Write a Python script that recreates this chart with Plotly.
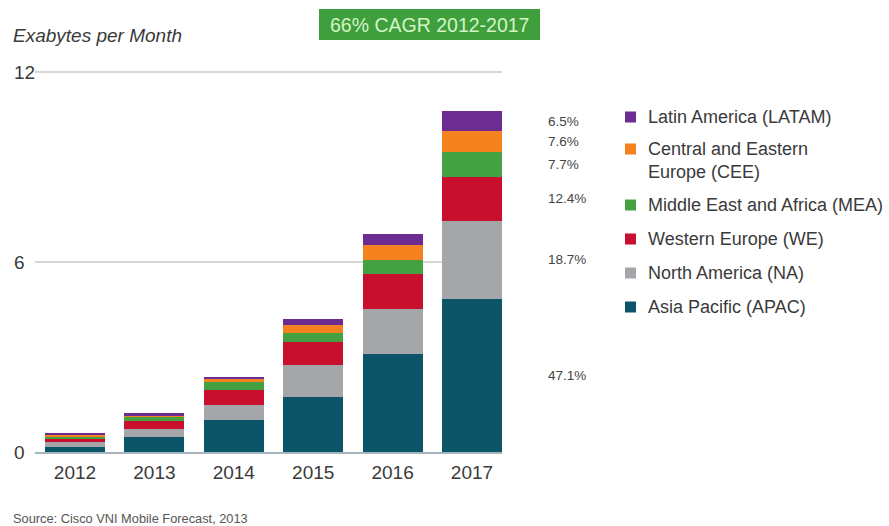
import plotly.graph_objects as go

# Mobile data traffic by region, exabytes per month
years = ["2012", "2013", "2014", "2015", "2016", "2017"]
apac = [0.17, 0.47, 1.02, 1.75, 3.09, 4.83]
north_america = [0.14, 0.26, 0.47, 1.00, 1.42, 2.47]
western_europe = [0.13, 0.25, 0.47, 0.72, 1.10, 1.39]
mea = [0.06, 0.11, 0.24, 0.30, 0.44, 0.79]
cee = [0.05, 0.07, 0.10, 0.25, 0.48, 0.65]
latam = [0.04, 0.06, 0.07, 0.19, 0.34, 0.64]

# 2017 regional shares, bottom to top
share_2017 = ["47.1%", "18.7%", "12.4%", "7.7%", "7.6%", "6.5%"]

region_names = [
    "Asia Pacific (APAC)",
    "North America (NA)",
    "Western Europe (WE)",
    "Middle East and Africa (MEA)",
    "Central and Eastern<br>Europe (CEE)",
    "Latin America (LATAM)",
]
region_values = [apac, north_america, western_europe, mea, cee, latam]
region_colors = ["#0c5467", "#a4a6a9", "#c8102e", "#43a142", "#f5821f", "#6b2d91"]

y_ticks = [0, 6, 12]
cagr_text = "66% CAGR 2012-2017"
source_text = "Source: Cisco VNI Mobile Forecast, 2013"

FONT = "Liberation Sans, Arial, sans-serif"
TXT = "#3a3a3a"

# plot-area geometry (pixels) used to place paper-referenced items
W, H = 889, 526
L, R, T, B = 35, 387, 69, 74
PW, PH = W - L - R, H - T - B
PX_PER_UNIT = 380 / 12.0
Y_MAX = PH / PX_PER_UNIT


def px_x(px):
    return (px - L) / PW


def px_y(py):
    return (H - B - py) / PH


fig = go.Figure()
x_pos = list(range(len(years)))
for name, vals, color in zip(region_names, region_values, region_colors):
    fig.add_trace(go.Bar(
        x=x_pos, y=vals, name=name, width=0.756,
        marker=dict(color=color, line=dict(width=0)),
        showlegend=False, hoverinfo="y+name",
    ))

annotations = []
shapes = []

# y tick labels, left aligned
for t in y_ticks:
    annotations.append(dict(
        xref="paper", yref="y", x=px_x(12), y=t, xanchor="left", yanchor="middle",
        text=str(t), showarrow=False, font=dict(family=FONT, size=19, color=TXT),
    ))

# share labels beside the 2017 bar, at each segment's midpoint
base = 0.0
for vals, lab in zip(region_values, share_2017):
    v = vals[-1]
    annotations.append(dict(
        xref="paper", yref="y", x=px_x(546), y=base + v / 2, xanchor="left",
        yanchor="middle", text=lab, showarrow=False,
        font=dict(family=FONT, size=13.5, color="#444444"),
    ))
    base += v

# legend, top entry first
legend_rows = [117, 149, 205, 239, 273, 307]
for name, color, row_y in zip(region_names[::-1], region_colors[::-1], legend_rows):
    shapes.append(dict(
        type="rect", xref="paper", yref="paper",
        x0=px_x(625), x1=px_x(636), y0=px_y(row_y + 5.5), y1=px_y(row_y - 5.5),
        fillcolor=color, line=dict(width=0),
    ))
    annotations.append(dict(
        xref="paper", yref="paper", x=px_x(646), y=px_y(row_y - 12),
        xanchor="left", yanchor="top", align="left", text=name, showarrow=False,
        font=dict(family=FONT, size=18, color=TXT),
    ))

# CAGR banner
shapes.append(dict(
    type="rect", xref="paper", yref="paper",
    x0=px_x(319), x1=px_x(540), y0=px_y(40), y1=px_y(9),
    fillcolor="#3e9f3c", line=dict(width=0),
))
annotations.append(dict(
    xref="paper", yref="paper", x=px_x(429.5), y=px_y(24.5), xanchor="center",
    yanchor="middle", text=cagr_text, showarrow=False,
    font=dict(family=FONT, size=19.5, color="#d4f4c6"),
))

# axis title and source note
annotations.append(dict(
    xref="paper", yref="paper", x=px_x(11), y=px_y(35), xanchor="left",
    yanchor="middle", text="<i>Exabytes per Month</i>", showarrow=False,
    font=dict(family=FONT, size=19, color=TXT),
))
annotations.append(dict(
    xref="paper", yref="paper", x=px_x(11), y=px_y(518), xanchor="left",
    yanchor="middle", text=source_text, showarrow=False,
    font=dict(family=FONT, size=12.8, color="#555555"),
))

fig.update_layout(
    width=W, height=H,
    margin=dict(l=L, r=R, t=T, b=B, pad=0),
    paper_bgcolor="white", plot_bgcolor="white",
    barmode="stack", bargap=0,
    font=dict(family=FONT, color=TXT),
    annotations=annotations, shapes=shapes,
    xaxis=dict(
        range=[-0.504, 5.378], tickvals=x_pos, ticktext=years,
        showgrid=False, zeroline=False, showline=True, linecolor="#a6b5bc",
        linewidth=1.5, ticks="", tickfont=dict(family=FONT, size=19, color=TXT),
        ticklabelstandoff=2, fixedrange=True,
    ),
    yaxis=dict(
        range=[0, Y_MAX], tickvals=y_ticks, showticklabels=False,
        showgrid=True, gridcolor="#d6d6d6", gridwidth=1.5,
        zeroline=False, showline=False, ticks="", fixedrange=True,
    ),
)

fig.write_html("out.html")
